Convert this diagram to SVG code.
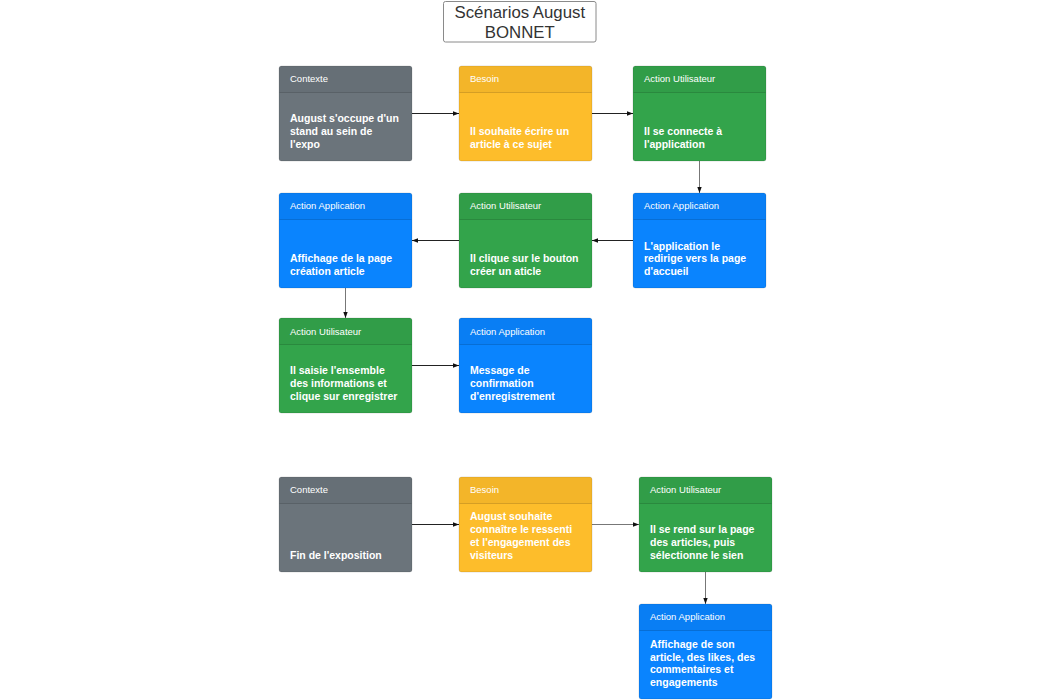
<svg xmlns="http://www.w3.org/2000/svg" width="1050" height="700" viewBox="0 0 1050 700">
  <defs>
    <marker id="arr" markerUnits="userSpaceOnUse" markerWidth="6" markerHeight="6" viewBox="0 0 6 6" refX="6" refY="3" orient="auto">
      <path d="M0,0.8 L6,3 L0,5.2 Z" fill="#111"/>
    </marker>
    <style>
      .box { stroke: rgba(0,0,0,0.12); stroke-width: 1; }
      .gray { fill: #6b747b; }
      .yellow { fill: #fdbd2b; }
      .green { fill: #33a44b; }
      .blue { fill: #0a84fe; }
      .hdr { fill: rgba(0,0,0,0.04); }
      .div { stroke: rgba(0,0,0,0.14); stroke-width: 1; }
      .ht { font-family: "Liberation Sans", Arial, sans-serif; font-size: 9.5px; fill: #ffffff; }
      .bt { font-family: "Liberation Sans", Arial, sans-serif; font-size: 10.5px; font-weight: bold; fill: #ffffff; }
      .title { font-family: "Liberation Sans", Arial, sans-serif; font-size: 16.8px; fill: #333333; text-anchor: middle; }
      .conn { stroke: #222; stroke-width: 1; fill: none; marker-end: url(#arr); }
      .connv { stroke: #777; stroke-width: 1; fill: none; marker-end: url(#arr); }
    </style>
  </defs>
  <rect width="1050" height="700" fill="#ffffff"/>

  <g id="title">
    <rect x="443.5" y="1.5" width="152.5" height="40.5" rx="2" fill="#ffffff" stroke="#8a8a8a"/>
    <text class="title" x="519.8" y="18.3">Scénarios August</text>
    <text class="title" x="519.8" y="37.5">BONNET</text>
  </g>

  <g id="connectors">
    <line class="conn" x1="412" y1="113.5" x2="459" y2="113.5"/>
    <line class="conn" x1="592" y1="113.5" x2="633" y2="113.5"/>
    <line class="connv" x1="699.5" y1="161" x2="699.5" y2="193"/>
    <line class="conn" x1="633" y1="240.5" x2="592" y2="240.5"/>
    <line class="conn" x1="459" y1="240.5" x2="412" y2="240.5"/>
    <line class="connv" x1="345.5" y1="288" x2="345.5" y2="318"/>
    <line class="conn" x1="412" y1="365.5" x2="459" y2="365.5"/>
    <line class="conn" x1="412" y1="524.5" x2="459" y2="524.5"/>
    <line class="connv" x1="592" y1="524.5" x2="639" y2="524.5"/>
    <line class="connv" x1="705.5" y1="572" x2="705.5" y2="604"/>
  </g>

  <g id="n1">
    <rect class="box gray" x="279" y="66" width="133" height="95" rx="2.5"/>
    <rect class="hdr" x="279.5" y="66.5" width="132" height="26"/>
    <line class="div" x1="279.5" y1="92.5" x2="411.5" y2="92.5"/>
    <text class="ht" x="290" y="82.4">Contexte</text>
    <text class="bt" x="290" y="122.4">August s'occupe d'un</text>
    <text class="bt" x="290" y="135.1">stand au sein de</text>
    <text class="bt" x="290" y="147.8">l'expo</text>
  </g>

  <g id="n2">
    <rect class="box yellow" x="459" y="66" width="133" height="95" rx="2.5"/>
    <rect class="hdr" x="459.5" y="66.5" width="132" height="26"/>
    <line class="div" x1="459.5" y1="92.5" x2="591.5" y2="92.5"/>
    <text class="ht" x="470" y="82.4">Besoin</text>
    <text class="bt" x="470" y="135.1">Il souhaite écrire un</text>
    <text class="bt" x="470" y="147.8">article à ce sujet</text>
  </g>

  <g id="n3">
    <rect class="box green" x="633" y="66" width="133" height="95" rx="2.5"/>
    <rect class="hdr" x="633.5" y="66.5" width="132" height="26"/>
    <line class="div" x1="633.5" y1="92.5" x2="765.5" y2="92.5"/>
    <text class="ht" x="644" y="82.4">Action Utilisateur</text>
    <text class="bt" x="644" y="135.1">Il se connecte à</text>
    <text class="bt" x="644" y="147.8">l'application</text>
  </g>

  <g id="n4">
    <rect class="box blue" x="633" y="193" width="133" height="95" rx="2.5"/>
    <rect class="hdr" x="633.5" y="193.5" width="132" height="26"/>
    <line class="div" x1="633.5" y1="219.5" x2="765.5" y2="219.5"/>
    <text class="ht" x="644" y="209.4">Action Application</text>
    <text class="bt" x="644" y="249.5">L'application le</text>
    <text class="bt" x="644" y="262.2">redirige vers la page</text>
    <text class="bt" x="644" y="274.9">d'accueil</text>
  </g>

  <g id="n5">
    <rect class="box green" x="459" y="193" width="133" height="95" rx="2.5"/>
    <rect class="hdr" x="459.5" y="193.5" width="132" height="26"/>
    <line class="div" x1="459.5" y1="219.5" x2="591.5" y2="219.5"/>
    <text class="ht" x="470" y="209.4">Action Utilisateur</text>
    <text class="bt" x="470" y="262.2">Il clique sur le bouton</text>
    <text class="bt" x="470" y="274.9">créer un aticle</text>
  </g>

  <g id="n6">
    <rect class="box blue" x="279" y="193" width="133" height="95" rx="2.5"/>
    <rect class="hdr" x="279.5" y="193.5" width="132" height="26"/>
    <line class="div" x1="279.5" y1="219.5" x2="411.5" y2="219.5"/>
    <text class="ht" x="290" y="209.4">Action Application</text>
    <text class="bt" x="290" y="262.2">Affichage de la page</text>
    <text class="bt" x="290" y="274.9">création article</text>
  </g>

  <g id="n7">
    <rect class="box green" x="279" y="318" width="133" height="95" rx="2.5"/>
    <rect class="hdr" x="279.5" y="318.5" width="132" height="26"/>
    <line class="div" x1="279.5" y1="344.5" x2="411.5" y2="344.5"/>
    <text class="ht" x="290" y="334.7">Action Utilisateur</text>
    <text class="bt" x="290" y="374.4">Il saisie l'ensemble</text>
    <text class="bt" x="290" y="387.1">des informations et</text>
    <text class="bt" x="290" y="399.8">clique sur enregistrer</text>
  </g>

  <g id="n8">
    <rect class="box blue" x="459" y="318" width="133" height="95" rx="2.5"/>
    <rect class="hdr" x="459.5" y="318.5" width="132" height="26"/>
    <line class="div" x1="459.5" y1="344.5" x2="591.5" y2="344.5"/>
    <text class="ht" x="470" y="334.7">Action Application</text>
    <text class="bt" x="470" y="374.4">Message de</text>
    <text class="bt" x="470" y="387.1">confirmation</text>
    <text class="bt" x="470" y="399.8">d'enregistrement</text>
  </g>

  <g id="n9">
    <rect class="box gray" x="279" y="477" width="133" height="95" rx="2.5"/>
    <rect class="hdr" x="279.5" y="477.5" width="132" height="26"/>
    <line class="div" x1="279.5" y1="503.5" x2="411.5" y2="503.5"/>
    <text class="ht" x="290" y="493.1">Contexte</text>
    <text class="bt" x="290" y="558.5">Fin de l'exposition</text>
  </g>

  <g id="n10">
    <rect class="box yellow" x="459" y="477" width="133" height="95" rx="2.5"/>
    <rect class="hdr" x="459.5" y="477.5" width="132" height="26"/>
    <line class="div" x1="459.5" y1="503.5" x2="591.5" y2="503.5"/>
    <text class="ht" x="470" y="493.1">Besoin</text>
    <text class="bt" x="470" y="520.4">August souhaite</text>
    <text class="bt" x="470" y="533.1">connaître le ressenti</text>
    <text class="bt" x="470" y="545.8">et l'engagement des</text>
    <text class="bt" x="470" y="558.5">visiteurs</text>
  </g>

  <g id="n11">
    <rect class="box green" x="639" y="477" width="133" height="95" rx="2.5"/>
    <rect class="hdr" x="639.5" y="477.5" width="132" height="26"/>
    <line class="div" x1="639.5" y1="503.5" x2="771.5" y2="503.5"/>
    <text class="ht" x="650" y="493.1">Action Utilisateur</text>
    <text class="bt" x="650" y="533.1">Il se rend sur la page</text>
    <text class="bt" x="650" y="545.8">des articles, puis</text>
    <text class="bt" x="650" y="558.5">sélectionne le sien</text>
  </g>

  <g id="n12">
    <rect class="box blue" x="639" y="604" width="133" height="95" rx="2.5"/>
    <rect class="hdr" x="639.5" y="604.5" width="132" height="26"/>
    <line class="div" x1="639.5" y1="630.5" x2="771.5" y2="630.5"/>
    <text class="ht" x="650" y="620.4">Action Application</text>
    <text class="bt" x="650" y="648">Affichage de son</text>
    <text class="bt" x="650" y="660.7">article, des likes, des</text>
    <text class="bt" x="650" y="673.4">commentaires et</text>
    <text class="bt" x="650" y="686.1">engagements</text>
  </g>
</svg>
